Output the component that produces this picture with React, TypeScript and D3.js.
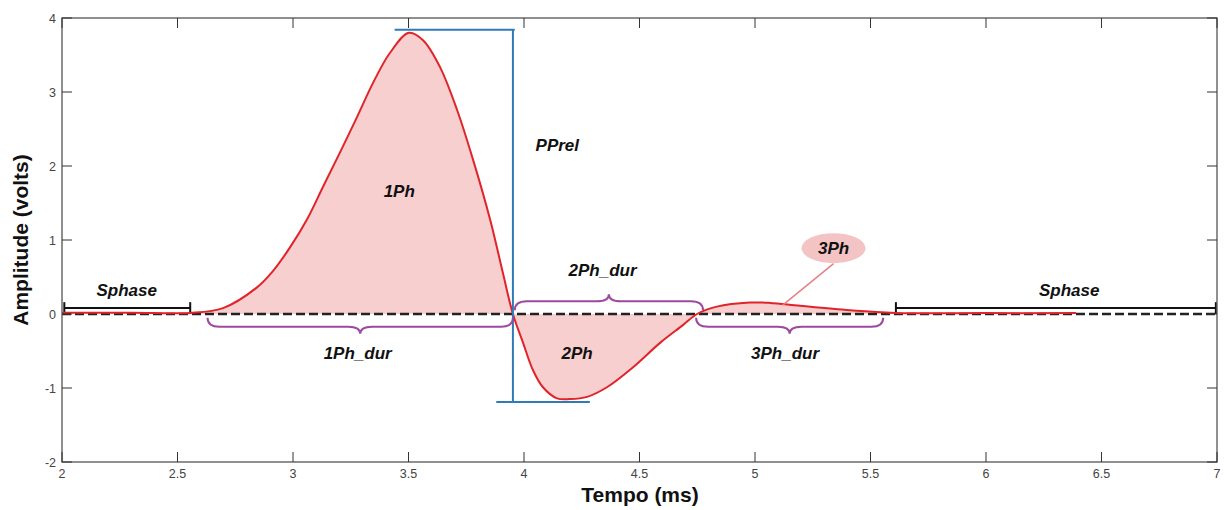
import React from "react";
import * as d3 from "d3";

const times = [2.0, 2.3, 2.554, 2.697, 2.844, 2.913, 2.987, 3.061, 3.13, 3.203, 3.277, 3.346, 3.42, 3.502, 3.563, 3.636, 3.71, 3.779, 3.853, 3.909, 3.952, 3.996, 4.039, 4.082, 4.143, 4.199, 4.273, 4.359, 4.472, 4.589, 4.688, 4.749, 4.835, 4.978, 5.065, 5.195, 5.411, 5.606, 6.0, 6.39];
const volts = [0.018, 0.018, 0.015, 0.08, 0.36, 0.58, 0.9, 1.28, 1.72, 2.18, 2.66, 3.12, 3.53, 3.8, 3.7, 3.34, 2.76, 2.09, 1.28, 0.55, 0.0, -0.39, -0.76, -0.99, -1.14, -1.15, -1.12, -0.99, -0.72, -0.39, -0.15, 0.0, 0.1, 0.155, 0.15, 0.11, 0.05, 0.015, 0.012, 0.012];
const xTicks = [2, 2.5, 3, 3.5, 4, 4.5, 5, 5.5, 6, 6.5, 7];
const yTicks = [-2, -1, 0, 1, 2, 3, 4];

const W = 1225, H = 510;
const M = { left: 62, right: 8, top: 18, bottom: 48 };

export default function App() {
  const x = d3.scaleLinear().domain([2, 7]).range([M.left, W - M.right]);
  const y = d3.scaleLinear().domain([-2, 4]).range([H - M.bottom, M.top]);
  const data = times.map((t, i) => ({ t, v: volts[i] }));
  const fillData = data.filter((d) => d.t >= 2.554 && d.t <= 5.606);
  const curve = d3.curveCatmullRom.alpha(0.5);
  const line = d3.line<any>().x((d) => x(d.t)).y((d) => y(d.v)).curve(curve);
  const area = d3.area<any>().x((d) => x(d.t)).y0(y(0)).y1((d) => y(d.v)).curve(curve);

  const brace = (t1: number, t2: number, vb: number, dir: number) => {
    const x1 = x(t1), x2 = x(t2), y0 = y(vb);
    const mid = (x1 + x2) / 2;
    const h = 9 * dir, tip = 16 * dir, r = 12;
    return `M${x1},${y0} Q${x1},${y0 + h} ${x1 + r},${y0 + h} L${mid - r},${y0 + h} Q${mid},${y0 + h} ${mid},${y0 + tip} Q${mid},${y0 + h} ${mid + r},${y0 + h} L${x2 - r},${y0 + h} Q${x2},${y0 + h} ${x2},${y0}`;
  };

  const tickFont = { fontFamily: "Arial, Liberation Sans, sans-serif", fontSize: 12.5, fill: "#444" };
  const lblFont = { fontFamily: "Arial, Liberation Sans, sans-serif", fontSize: 17, fontWeight: "bold", fontStyle: "italic", fill: "#111" } as const;
  const purple = "#9c4a9f";
  const blue = "#2f7bb6";
  const y0 = y(0);

  return (
    <svg width={W} height={H} style={{ position: "absolute", left: 0, top: 0, background: "#fff" }}>
      <path d={area(fillData) || ""} fill="#f7cfcf" />
      {[[2.01, 2.555], [5.61, 6.995]].map(([a, b], i) => (
        <g key={i} stroke="#111" strokeWidth={2}>
          <line x1={x(a)} x2={x(b)} y1={y(0.08)} y2={y(0.08)} />
          <line x1={x(a)} x2={x(a)} y1={y(0.16)} y2={y(0)} />
          <line x1={x(b)} x2={x(b)} y1={y(0.16)} y2={y(0)} />
        </g>
      ))}
      <line x1={x(2)} x2={x(7)} y1={y0} y2={y0} stroke="#222" strokeWidth={2.5} strokeDasharray="9,4" />
      <path d={line(data) || ""} fill="none" stroke="#e0242a" strokeWidth={2} />
      <g stroke={blue} strokeWidth={2}>
        <line x1={x(3.44)} x2={x(3.96)} y1={y(3.84)} y2={y(3.84)} />
        <line x1={x(3.952)} x2={x(3.952)} y1={y(3.84)} y2={y(-1.19)} />
        <line x1={x(3.88)} x2={x(4.285)} y1={y(-1.19)} y2={y(-1.19)} />
      </g>
      <g fill="none" stroke={purple} strokeWidth={2}>
        <path d={brace(2.63, 3.952, -0.05, 1)} />
        <path d={brace(3.96, 4.775, 0.05, -1)} />
        <path d={brace(4.745, 5.555, -0.05, 1)} />
      </g>
      <line x1={x(5.34)} x2={x(5.12)} y1={y(0.68)} y2={y(0.12)} stroke="#e87f86" strokeWidth={1.5} />
      <ellipse cx={x(5.34)} cy={y(0.89)} rx={32} ry={15} fill="#f4c4c4" />
      <text x={x(5.34)} y={y(0.89)} dy="0.36em" textAnchor="middle" style={lblFont}>3Ph</text>
      <text x={x(3.46)} y={y(1.67)} dy="0.36em" textAnchor="middle" style={lblFont}>1Ph</text>
      <text x={x(4.23)} y={y(-0.53)} dy="0.36em" textAnchor="middle" style={lblFont}>2Ph</text>
      <text x={x(4.05)} y={y(2.29)} dy="0.36em" style={lblFont}>PPrel</text>
      <text x={x(3.28)} y={y(-0.52)} dy="0.36em" textAnchor="middle" style={lblFont}>1Ph_dur</text>
      <text x={x(4.34)} y={y(0.59)} dy="0.36em" textAnchor="middle" style={lblFont}>2Ph_dur</text>
      <text x={x(5.13)} y={y(-0.52)} dy="0.36em" textAnchor="middle" style={lblFont}>3Ph_dur</text>
      <text x={x(2.28)} y={y(0.32)} dy="0.36em" textAnchor="middle" style={lblFont}>Sphase</text>
      <text x={x(6.36)} y={y(0.32)} dy="0.36em" textAnchor="middle" style={lblFont}>Sphase</text>
      <rect x={M.left} y={M.top} width={W - M.left - M.right} height={H - M.top - M.bottom} fill="none" stroke="#555" strokeWidth={1.3} />
      {xTicks.map((t) => (
        <g key={"x" + t}>
          <line x1={x(t)} x2={x(t)} y1={y(-2)} y2={y(-2) - 10} stroke="#333" />
          <line x1={x(t)} x2={x(t)} y1={y(4)} y2={y(4) + 10} stroke="#333" />
          <text x={x(t)} y={y(-2) + 16} textAnchor="middle" style={tickFont}>{t}</text>
        </g>
      ))}
      {yTicks.map((v) => (
        <g key={"y" + v}>
          <line x1={x(2)} x2={x(2) + 10} y1={y(v)} y2={y(v)} stroke="#333" />
          <line x1={x(7)} x2={x(7) - 10} y1={y(v)} y2={y(v)} stroke="#333" />
          <text x={x(2) - 6} y={y(v)} dy="0.36em" textAnchor="end" style={tickFont}>{v}</text>
        </g>
      ))}
      <text x={640} y={502} textAnchor="middle" style={{ fontFamily: "Arial, Liberation Sans, sans-serif", fontSize: 21, fontWeight: "bold", fill: "#111" }}>Tempo (ms)</text>
      <text transform={`translate(28,${(M.top + H - M.bottom) / 2}) rotate(-90)`} textAnchor="middle" style={{ fontFamily: "Arial, Liberation Sans, sans-serif", fontSize: 21, fontWeight: "bold", fill: "#111" }}>Amplitude (volts)</text>
    </svg>
  );
}
